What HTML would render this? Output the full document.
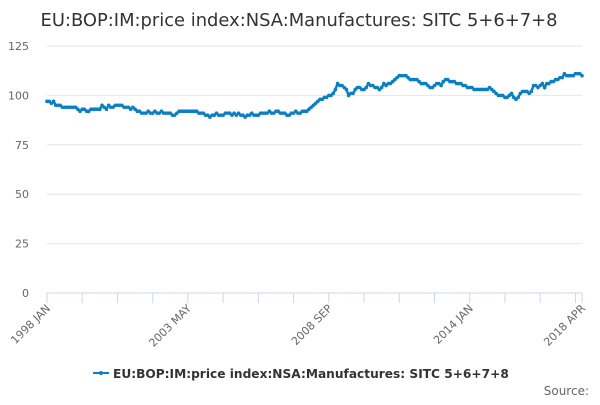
<!DOCTYPE html>
<html><head><meta charset="utf-8"><style>
body{margin:0;background:#fff;font-family:"Liberation Sans","DejaVu Sans",sans-serif}
svg text{font-family:"DejaVu Sans","Liberation Sans",sans-serif}
</style></head><body>
<svg id="c" width="600" height="400">
<text x="299" y="26" text-anchor="middle" font-size="17.9" fill="#333">EU:BOP:IM:price index:NSA:Manufactures: SITC 5+6+7+8</text>
<g id="grid"></g><g id="xaxis"></g><g id="series"></g>
<g>
<line x1="93" y1="373" x2="109" y2="373" stroke="#0c7fc4" stroke-width="2"/>
<circle cx="101" cy="373" r="2" fill="#0c7fc4"/>
<text x="113" y="378" font-size="12.2" font-weight="bold" fill="#333">EU:BOP:IM:price index:NSA:Manufactures: SITC 5+6+7+8</text>
</g>
<text x="589" y="395" text-anchor="end" font-size="12" fill="#666">Source:</text>
</svg>
<script>
const yTicks=[0,25,50,75,100,125];
const xLabels=["1998 JAN","2003 MAY","2008 SEP","2014 JAN","2018 APR"];
const xLabelIdx=[0,64,128,192,243];
const values=[
97,97,96,97,95,95,95,94,94,94,94,94,
94,94,93,92,93,93,92,92,93,93,93,93,
93,95,94,93,95,94,94,95,95,95,95,94,
94,94,93,94,93,92,92,91,91,91,92,91,
91,92,91,91,92,91,91,91,91,90,90,91,
92,92,92,92,92,92,92,92,92,91,91,91,
90,90,89,90,90,91,90,90,90,91,91,91,
90,91,90,91,90,90,89,90,90,91,90,90,
90,91,91,91,91,92,91,91,92,92,91,91,
91,90,90,91,91,92,91,91,92,92,92,93,
94,95,96,97,98,98,99,99,100,100,101,103,
106,105,105,104,103,100,101,101,103,104,104,103,
103,104,106,105,105,104,104,103,104,106,105,106,
106,107,108,109,110,110,110,110,109,108,108,108,
108,107,106,106,106,105,104,104,105,106,106,105,
107,108,108,107,107,107,106,106,106,105,105,104,
104,104,103,103,103,103,103,103,103,104,103,102,
101,100,100,100,99,99,100,101,99,98,99,101,
102,102,102,101,102,105,105,104,105,106,104,106,
106,107,107,108,108,109,109,111,110,110,110,110,
111,111,111,110];
const X0=47,X1=582,Y0=293,Y1=46;
const xs=i=>X0+i*(X1-X0)/(values.length-1);
const ys=v=>Y0-v*(Y0-Y1)/125;
const NS="http://www.w3.org/2000/svg";
function mk(t,a,p){const e=document.createElementNS(NS,t);for(const k in a)e.setAttribute(k,a[k]);p.appendChild(e);return e;}
const grid=document.getElementById('grid');
yTicks.forEach(v=>{
 if(v>0){const l=mk('line',{x1:X0,x2:X1,y1:ys(v),y2:ys(v),stroke:'#e6e6e6'},grid);
 
 }
 const t=mk('text',{x:29,y:ys(v)+4,'text-anchor':'end','font-size':11,fill:'#666'},grid);t.textContent=v;
 
 
});
const xa=document.getElementById('xaxis');
const ax=mk('line',{x1:X0,x2:X1,y1:Y0,y2:Y0,stroke:'#ccd6eb'},xa);


for(let i=0;i<=240;i+=16){mk('line',{x1:xs(i),x2:xs(i),y1:Y0,y2:Y0+10,stroke:'#ccd6eb'},xa);}
mk('line',{x1:xs(243),x2:xs(243),y1:Y0,y2:Y0+10,stroke:'#ccd6eb'},xa);
xLabels.forEach((s,k)=>{const x=xs(xLabelIdx[k])+4,y=Y0+16;
 const t=mk('text',{x:x,y:y,'text-anchor':'end','font-size':11,fill:'#666',transform:`rotate(-45 ${x} ${y})`},xa);t.textContent=s;
 
 });
const sg=document.getElementById('series');
const p=mk('path',{d:values.map((v,i)=>(i?'L':'M')+xs(i).toFixed(1)+' '+ys(v).toFixed(1)).join(''),fill:'none',stroke:'#0c7fc4','stroke-width':2.5},sg);


values.forEach((v,i)=>{const c=mk('circle',{cx:xs(i),cy:ys(v),r:1.8,fill:'#0c7fc4'},sg);
 
 });
</script>
</body></html>
